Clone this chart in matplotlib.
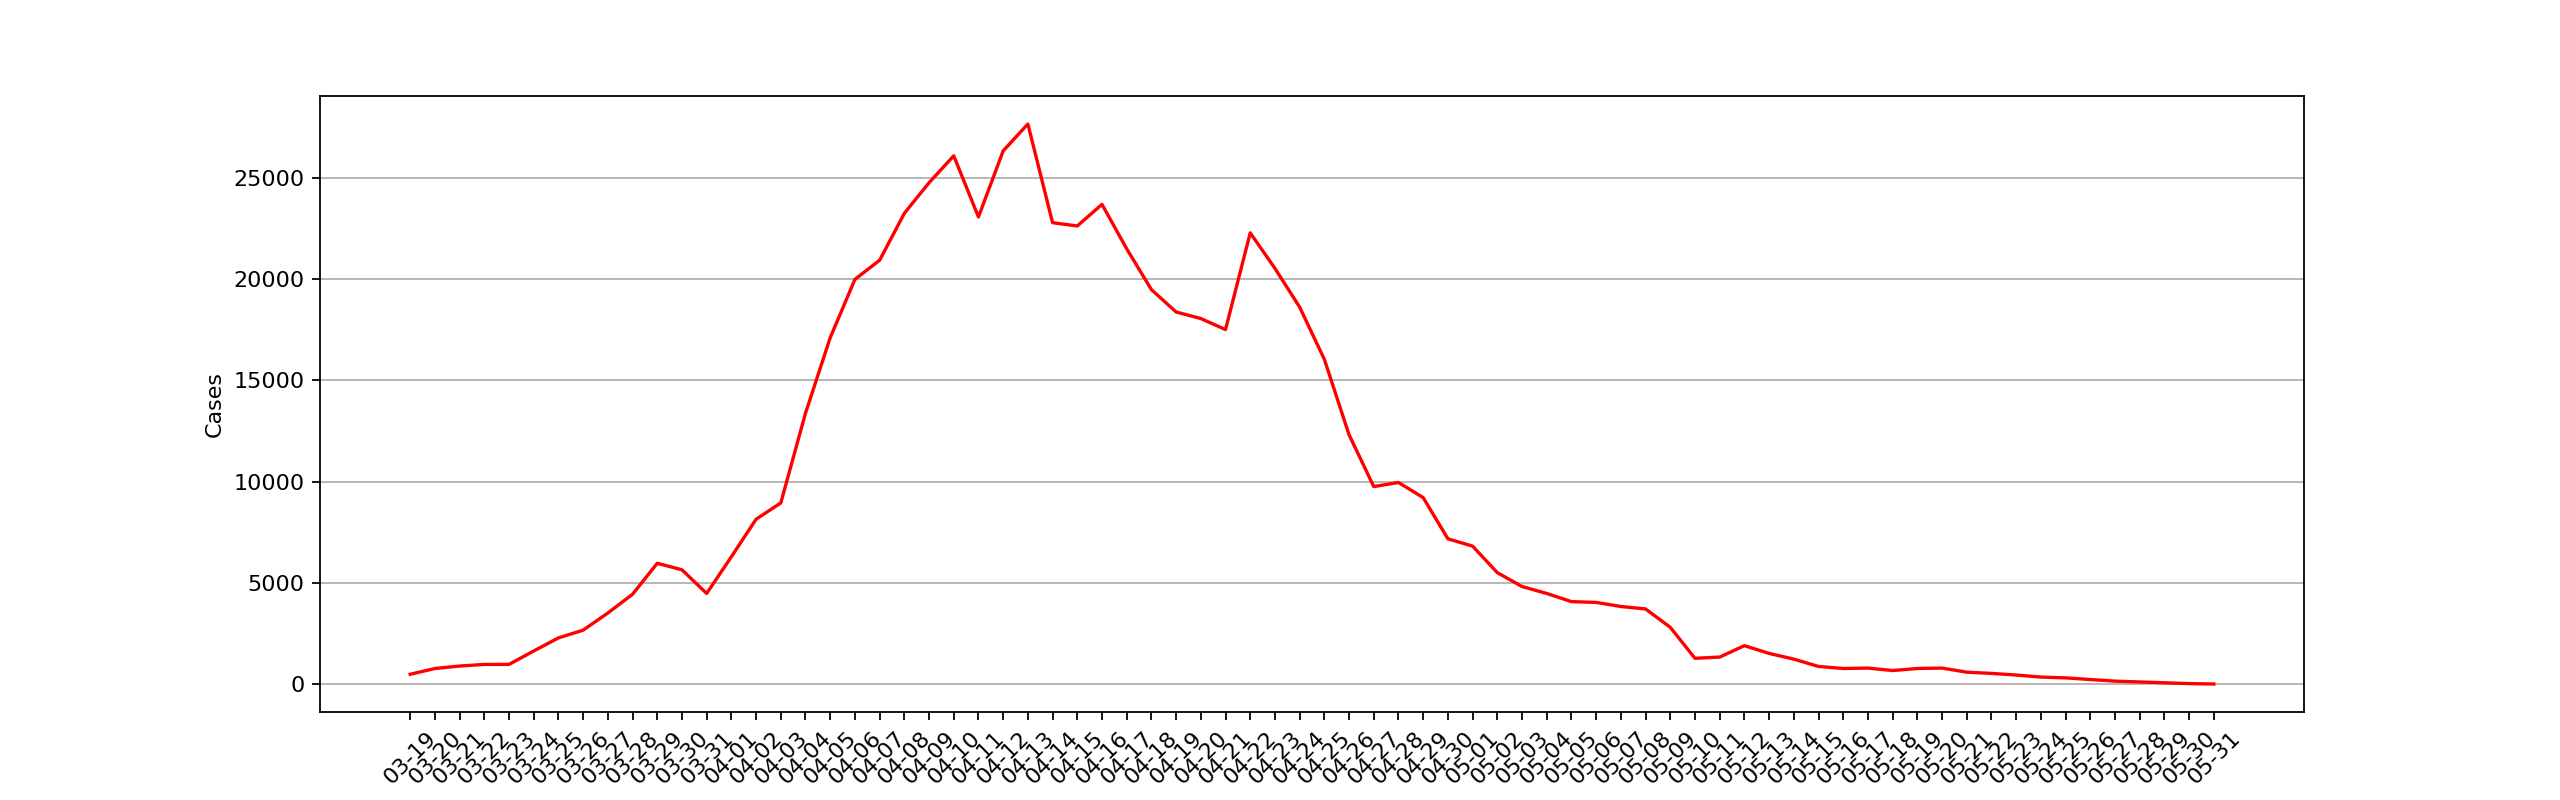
import datetime as dt
import matplotlib
matplotlib.use('Agg')
import matplotlib.pyplot as plt

start = dt.date(2020, 3, 19)
dates = [(start + dt.timedelta(days=i)).strftime('%m-%d') for i in range(74)]

cases = [500, 785, 906, 986, 986, 1650, 2295, 2677, 3523, 4449,
         5978, 5656, 4489, 6300, 8152, 8957, 13386, 17110, 19988, 20934,
         23249, 24758, 26087, 23068, 26329, 27657, 22786, 22625, 23692, 21498,
         19485, 18378, 18056, 17512, 22284, 20532, 18620, 16043, 12319, 9763,
         9964, 9219, 7186, 6824, 5515, 4831, 4489, 4086, 4046, 3845,
         3724, 2818, 1288, 1349, 1912, 1530, 1248, 886, 785, 805,
         684, 785, 805, 604, 543, 463, 362, 322, 242, 161,
         121, 80, 40, 20]

plt.figure(figsize=(16, 5), dpi=160)
plt.plot(dates, cases, color='r')
plt.grid(axis='y')
plt.xticks(rotation=45)
plt.ylabel('Cases')
# label sits mostly below the bottom edge, like in the original
plt.xlabel('Date', labelpad=6.5)
plt.savefig('out.png', dpi=160)
plt.close()
